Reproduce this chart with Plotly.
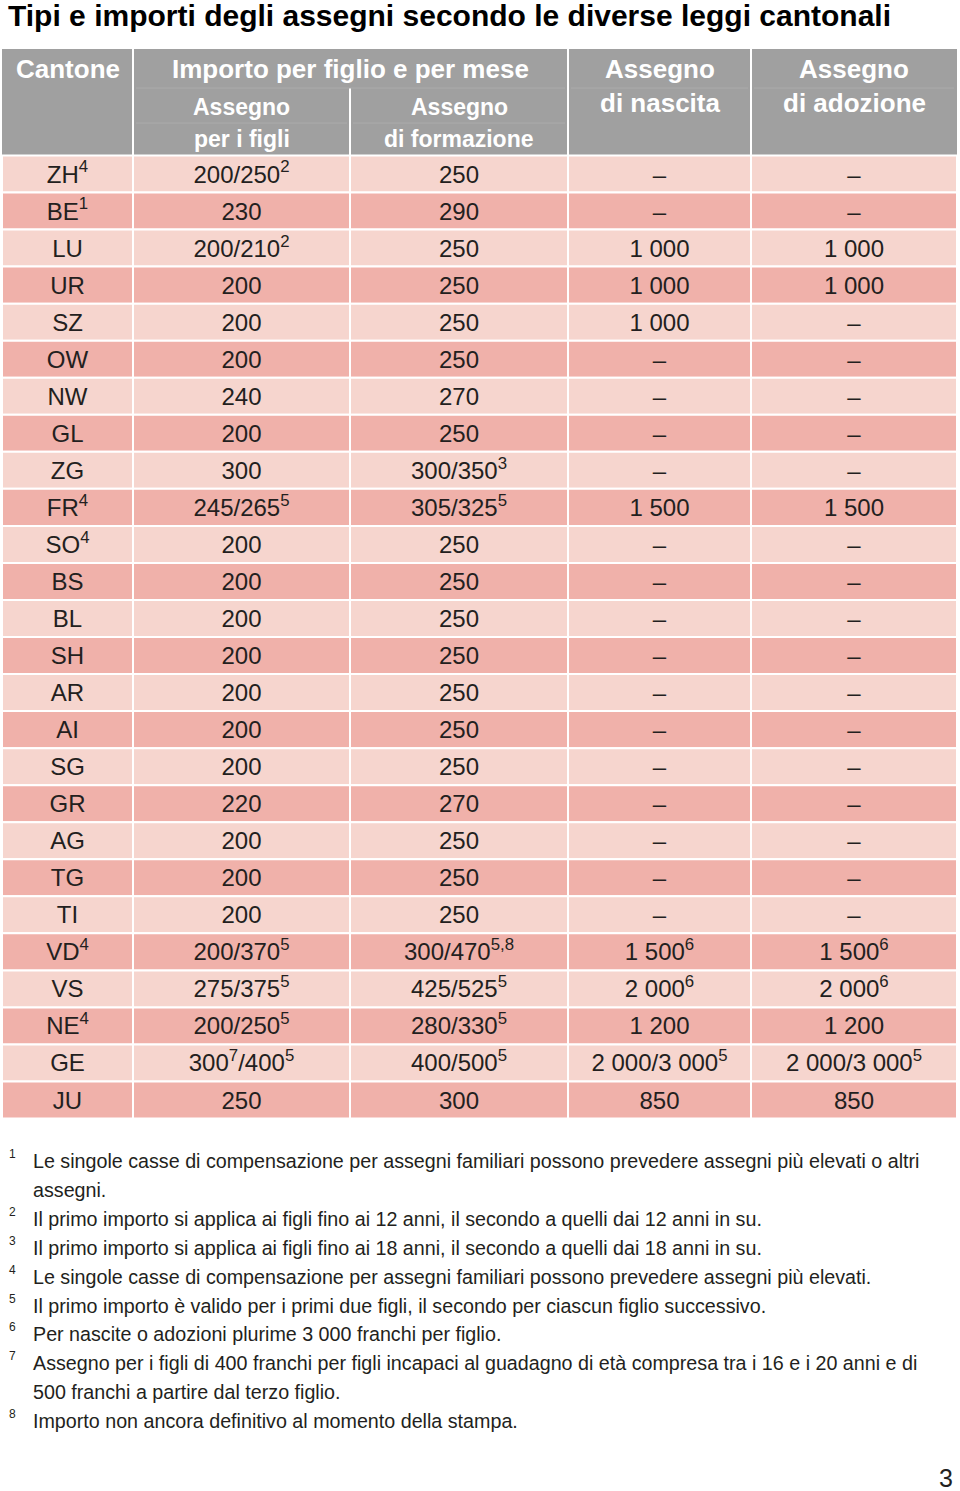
import plotly.graph_objects as go

# ---- dati della tabella ----
cantone = ["ZH", "BE", "LU", "UR", "SZ", "OW", "NW", "GL", "ZG", "FR", "SO", "BS", "BL",
           "SH", "AR", "AI", "SG", "GR", "AG", "TG", "TI", "VD", "VS", "NE", "GE", "JU"]
cantone_nota = ["4", "1", "", "", "", "", "", "", "", "4", "4", "", "",
                "", "", "", "", "", "", "", "", "4", "", "4", "", ""]
assegno_figli = ["200/250<sup>2</sup>", "230", "200/210<sup>2</sup>", "200", "200", "200", "240",
                 "200", "300", "245/265<sup>5</sup>", "200", "200", "200", "200", "200", "200",
                 "200", "220", "200", "200", "200", "200/370<sup>5</sup>", "275/375<sup>5</sup>",
                 "200/250<sup>5</sup>", "300<sup>7</sup>/400<sup>5</sup>", "250"]
assegno_formazione = ["250", "290", "250", "250", "250", "250", "270", "250", "300/350<sup>3</sup>",
                      "305/325<sup>5</sup>", "250", "250", "250", "250", "250", "250", "250", "270",
                      "250", "250", "250", "300/470<sup>5,8</sup>", "425/525<sup>5</sup>",
                      "280/330<sup>5</sup>", "400/500<sup>5</sup>", "300"]
assegno_nascita = ["–", "–", "1 000", "1 000", "1 000", "–", "–", "–", "–", "1 500", "–", "–", "–",
                   "–", "–", "–", "–", "–", "–", "–", "–", "1 500<sup>6</sup>", "2 000<sup>6</sup>",
                   "1 200", "2 000/3 000<sup>5</sup>", "850"]
assegno_adozione = ["–", "–", "1 000", "1 000", "–", "–", "–", "–", "–", "1 500", "–", "–", "–",
                    "–", "–", "–", "–", "–", "–", "–", "–", "1 500<sup>6</sup>", "2 000<sup>6</sup>",
                    "1 200", "2 000/3 000<sup>5</sup>", "850"]

note_numeri = ["1", "2", "3", "4", "5", "6", "7", "8"]
note_testi = [
    ["Le singole casse di compensazione per assegni familiari possono prevedere assegni più elevati o altri",
     "assegni."],
    ["Il primo importo si applica ai figli fino ai 12 anni, il secondo a quelli dai 12 anni in su."],
    ["Il primo importo si applica ai figli fino ai 18 anni, il secondo a quelli dai 18 anni in su."],
    ["Le singole casse di compensazione per assegni familiari possono prevedere assegni più elevati."],
    ["Il primo importo è valido per i primi due figli, il secondo per ciascun figlio successivo."],
    ["Per nascite o adozioni plurime 3 000 franchi per figlio."],
    ["Assegno per i figli di 400 franchi per figli incapaci al guadagno di età compresa tra i 16 e i 20 anni e di",
     "500 franchi a partire dal terzo figlio."],
    ["Importo non ancora definitivo al momento della stampa."],
]

TITOLO = "Tipi e importi degli assegni secondo le diverse leggi cantonali"

# ---- layout ----
W, H = 960, 1491
FONT = "Liberation Sans, Arial, sans-serif"
TXT = "#231f20"
GRIGIO = "#a0a0a0"
ROSA_CHIARO = "#f6d5ce"
ROSA_SCURO = "#f0b1aa"

col_edges = [2, 133, 350, 568, 751, 957]
col_mid = [(a + b) / 2 for a, b in zip(col_edges[:-1], col_edges[1:])]
head_top, head_bot = 49, 155.5
row_h = 37.04
n = len(cantone)
row_y = [head_bot + row_h * (i + 0.5) + 2.5 for i in range(n)]

fig = go.Figure()
shapes = []

# intestazione grigia
shapes.append(dict(type="rect", x0=col_edges[0], x1=col_edges[-1], y0=head_top, y1=head_bot,
                   fillcolor=GRIGIO, line=dict(width=0), layer="below"))
for xe in [col_edges[1], col_edges[3], col_edges[4]]:
    shapes.append(dict(type="line", x0=xe, x1=xe, y0=head_top, y1=head_bot,
                       line=dict(color="white", width=2), layer="below"))
shapes.append(dict(type="line", x0=col_edges[2], x1=col_edges[2], y0=88, y1=head_bot,
                   line=dict(color="white", width=2), layer="below"))
# righe sottili dentro l'intestazione
for x0, x1, yy in [(136, 565, 88), (571, 748, 88), (754, 954, 88), (136, 347, 123), (353, 565, 123)]:
    shapes.append(dict(type="line", x0=x0, x1=x1, y0=yy, y1=yy,
                       line=dict(color="#ababab", width=1), layer="below"))

# celle dati
for i in range(n):
    y0 = head_bot + row_h * i
    fill = ROSA_CHIARO if i % 2 == 0 else ROSA_SCURO
    for j in range(len(col_edges) - 1):
        shapes.append(dict(type="rect", x0=col_edges[j], x1=col_edges[j + 1], y0=y0, y1=y0 + row_h,
                           fillcolor=fill, line=dict(color="white", width=2), layer="below"))

# testo celle
colonne = [
    [c + (f"<sup>{s}</sup>" if s else "") for c, s in zip(cantone, cantone_nota)],
    assegno_figli, assegno_formazione, assegno_nascita, assegno_adozione,
]
for j, col in enumerate(colonne):
    fig.add_trace(go.Scatter(
        x=[col_mid[j]] * n, y=row_y, text=col, mode="text",
        textposition="middle center",
        textfont=dict(family=FONT, size=24, color=TXT),
        hoverinfo="skip", showlegend=False,
    ))

ann = []
ann.append(dict(x=6, y=15, text=f"<b>{TITOLO}</b>", xanchor="left", yanchor="middle",
                font=dict(family=FONT, size=30, color="black")))

head_font = dict(family=FONT, size=26, color="white")
sub_font = dict(family=FONT, size=23, color="white")
header = [
    (col_mid[0], 69, "Cantone", head_font),
    ((col_edges[1] + col_edges[3]) / 2, 69, "Importo per figlio e per mese", head_font),
    (col_mid[1], 107, "Assegno", sub_font), (col_mid[1], 139, "per i figli", sub_font),
    (col_mid[2], 107, "Assegno", sub_font), (col_mid[2], 139, "di formazione", sub_font),
    (col_mid[3], 69, "Assegno", head_font), (col_mid[3], 103, "di nascita", head_font),
    (col_mid[4], 69, "Assegno", head_font), (col_mid[4], 103, "di adozione", head_font),
]
for x, y, t, f in header:
    ann.append(dict(x=x, y=y, text=f"<b>{t}</b>", xanchor="center", yanchor="middle", font=f))

# note a piè di pagina
riga = 0
note_y0, note_dy = 1161, 28.9
for num, righe in zip(note_numeri, note_testi):
    ann.append(dict(x=7, y=note_y0 + riga * note_dy - 7, text=num, xanchor="left", yanchor="middle",
                    font=dict(family=FONT, size=12, color=TXT)))
    for r in righe:
        ann.append(dict(x=31, y=note_y0 + riga * note_dy, text=r, xanchor="left", yanchor="middle",
                        font=dict(family=FONT, size=19.7, color=TXT)))
        riga += 1

ann.append(dict(x=955, y=1478, text="3", xanchor="right", yanchor="middle",
                font=dict(family=FONT, size=25, color=TXT)))

for a in ann:
    a.update(xref="x", yref="y", showarrow=False)

fig.update_layout(
    width=W, height=H, margin=dict(l=0, r=0, t=0, b=0),
    paper_bgcolor="white", plot_bgcolor="white",
    xaxis=dict(range=[0, W], visible=False, fixedrange=True),
    yaxis=dict(range=[H, 0], visible=False, fixedrange=True),
    shapes=shapes, annotations=ann, showlegend=False,
)

fig.write_html("out.html", config={"displayModeBar": False},
               post_script="document.body.style.margin='0';document.body.style.overflow='hidden';")
